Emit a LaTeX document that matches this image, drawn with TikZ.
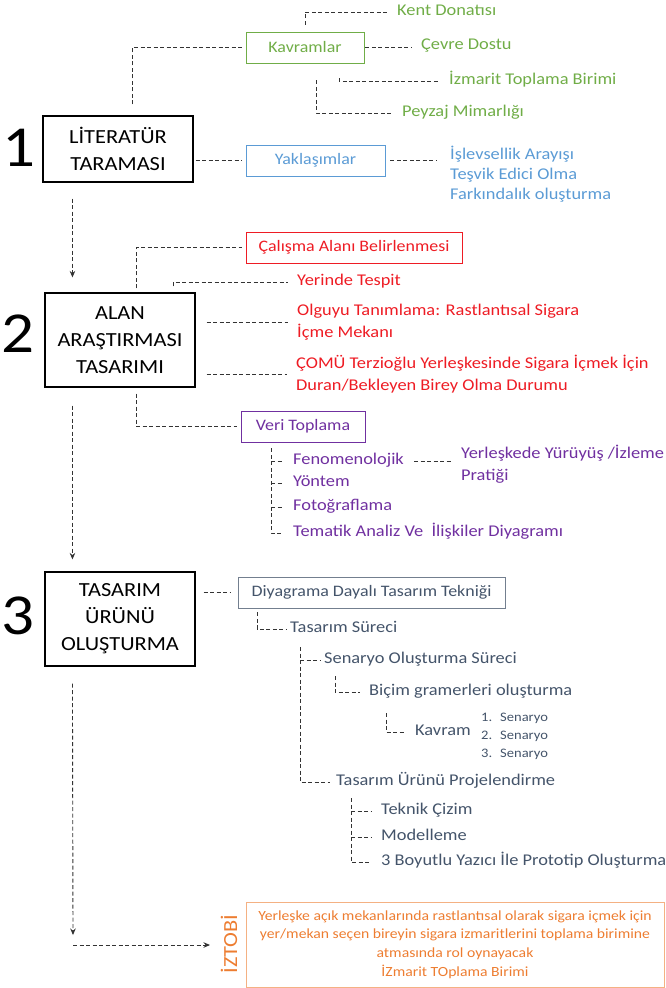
\documentclass[tikz,border=0pt]{standalone}
\usepackage{fontspec}
\setmainfont{Carlito}[FakeStretch=1.12]
\usetikzlibrary{arrows.meta}
\definecolor{kgreen}{RGB}{112,173,71}
\definecolor{kblue}{RGB}{91,155,213}
\definecolor{kred}{RGB}{238,28,36}
\definecolor{kpurple}{RGB}{112,48,160}
\definecolor{kslate}{RGB}{68,84,106}
\definecolor{korange}{RGB}{237,125,49}
\tikzset{
	conn/.style={draw=black!80, line width=0.9pt, dash pattern=on 4pt off 2.5pt},
	flow/.style={conn, -{Stealth[length=6.5pt,width=5.5pt]}},
	stage/.style={draw, line width=1.1pt, minimum width=150pt, align=center, font=\fontsize{20}{27}\selectfont},
	num/.style={inner sep=0pt, font=\fontsize{58}{58}\selectfont},
	tagbox/.style={draw, line width=0.9pt, minimum height=31pt, font=\fontsize{16}{20}\selectfont},
	item/.style={anchor=west, inner sep=0pt, text height=11pt, text depth=3.5pt, font=\fontsize{16.4}{20}\selectfont},
	para/.style={anchor=west, inner sep=0pt, align=left, font=\fontsize{16.4}{22}\selectfont},
}

\begin{document}
\begin{tikzpicture}[x=1pt,y=-1pt]
			%%%%% START %%%%%
			\useasboundingbox (0,0) rectangle (665,988);
			
			\node[stage, minimum height=66pt] (lit) at (118,149) {LİTERATÜR\\TARAMASI};
			\node[stage, minimum height=94pt] (alan) at (120,340) {ALAN\\ARAŞTIRMASI\\TASARIMI};
			\node[stage, minimum height=94pt] (tas) at (120,619) {TASARIM\\ÜRÜNÜ\\OLUŞTURMA};
			\node[num] (n1) at (19,148) {1};
			\node[num] (n2) at (18,334) {2};
			\node[num] (n3) at (18,616) {3};
			
			\node[tagbox, draw=kgreen, text=kgreen, minimum width=118pt] (kav) at (305,47.5) {Kavramlar};
			\node[item, text=kgreen] (kent) at (397,12) {Kent Donatısı};
			\node[item, text=kgreen] (cevre) at (421,46) {Çevre Dostu};
			\node[item, text=kgreen] (izm) at (449,81) {İzmarit Toplama Birimi};
			\node[item, text=kgreen] (pey) at (402,113) {Peyzaj Mimarlığı};
			\draw[conn, shorten >=4pt] ([xshift=90pt,yshift=11pt]lit.north west) |- (kav.west);
			\draw[conn, shorten >=9pt] ([yshift=7pt]kav.north) |- (kent.west);
			\draw[conn, shorten <=1pt, shorten >=10pt] (kav.east) -- (kav.east -| cevre.west);
			\draw[conn, shorten >=10pt] ([xshift=34pt,yshift=-15pt]kav.south) |- (izm.west);
			\draw[conn, shorten >=10pt] ([xshift=11pt,yshift=-17pt]kav.south) |- (pey.west);
			
			\node[tagbox, draw=kblue, text=kblue, minimum width=139pt] (yak) at (315.5,160.5) {Yaklaşımlar};
			\node[item, text=kblue] (isl) at (450,156) {İşlevsellik Arayışı};
			\node[item, text=kblue] (tes) at (450,176) {Teşvik Edici Olma};
			\node[item, text=kblue] (far) at (450,196) {Farkındalık oluşturma};
			\draw[conn, shorten <=2pt, shorten >=4pt] (lit.east |- yak.west) -- (yak.west);
			\draw[conn, shorten <=5pt, shorten >=13pt] (yak.east) -- (yak.east -| isl.west);
			
			\draw[flow] ([xshift=30pt,yshift=-16pt]lit.south west) -- ([xshift=28pt,yshift=15pt]alan.north west);
			
			\node[tagbox, draw=kred, text=kred, minimum width=216pt] (cal) at (354,247.5) {Çalışma Alanı Belirlenmesi};
			\node[item, text=kred] (yer) at (297,282) {Yerinde Tespit};
			\node[para, text=kred] (olg) at (297,322) {Olguyu Tanımlama: Rastlantısal Sigara\\İçme Mekanı};
			\node[para, text=kred] (como) at (296,374) {ÇOMÜ Terzioğlu Yerleşkesinde Sigara İçmek İçin\\Duran/Bekleyen Birey Olma Durumu};
			\draw[conn, shorten >=4pt] ([xshift=92pt,yshift=4pt]alan.north west) |- (cal.west);
			\draw[conn, shorten >=9pt] ([xshift=129pt,yshift=6pt]alan.north west) |- (yer.west);
			\draw[conn, shorten <=11pt, shorten >=9pt] (alan.east |- olg.west) -- (olg.west);
			\draw[conn, shorten <=11pt, shorten >=9pt] (alan.east |- como.west) -- (como.west);
			
			\node[tagbox, draw=kpurple, text=kpurple, minimum width=124pt] (veri) at (303,426.5) {Veri Toplama};
			\draw[conn, shorten >=4pt] ([xshift=92pt,yshift=-6pt]alan.south west) |- (veri.west);
			\node[item, text=kpurple] (fen) at (293,461) {Fenomenolojik};
			\node[item, text=kpurple] (yon) at (293,483) {Yöntem};
			\node[item, text=kpurple] (fot) at (293,507) {Fotoğraflama};
			\node[item, text=kpurple] (tem) at (293,533) {Tematik Analiz Ve\ \ İlişkiler Diyagramı};
			\node[para, text=kpurple] (yrl) at (461,464.5) {Yerleşkede Yürüyüş /İzleme\\Pratiği};
			\coordinate (vt) at ([xshift=-32pt,yshift=-6pt]veri.south);
			\draw[conn] (vt) |- ([xshift=-10pt]tem.west);
			\foreach \n in {fen,yon,fot}
				\draw[conn] (vt |- \n.west) -- ([xshift=-10pt]\n.west);
			\draw[conn, shorten <=10pt, shorten >=9pt] (fen.east) -- (fen.east -| yrl.west);
			
			\draw[flow] ([xshift=28pt,yshift=-18pt]alan.south west) -- ([xshift=28pt,yshift=12pt]tas.north west);
			
			\node[tagbox, draw=kslate!75, text=kslate, minimum width=267pt] (diy) at (371.5,592.5) {Diyagrama Dayalı Tasarım Tekniği};
			\draw[conn, shorten <=8pt, shorten >=7pt] (tas.east |- diy.west) -- (diy.west);
			\node[item, text=kslate] (sur) at (290,629) {Tasarım Süreci};
			\draw[conn, shorten >=4pt] ([xshift=-114.5pt,yshift=-4pt]diy.south) |- (sur.west);
			\node[item, text=kslate] (sen) at (324,660) {Senaryo Oluşturma Süreci};
			\node[item, text=kslate] (proj) at (336,782) {Tasarım Ürünü Projelendirme};
			\coordinate (st) at ([xshift=10pt,yshift=-18pt]sur.west);
			\draw[conn, shorten >=6pt] (st) |- (proj.west);
			\draw[conn, shorten >=4pt] (st |- sen.west) -- (sen.west);
			\node[item, text=kslate] (bic) at (369,692) {Biçim gramerleri oluşturma};
			\draw[conn, shorten >=9pt] ([xshift=11pt,yshift=-16pt]sen.west) |- (bic.west);
			\node[item, text=kslate] (kavr) at (415,732) {Kavram};
			\draw[conn, shorten >=10pt] ([xshift=17pt,yshift=-21pt]bic.west) |- (kavr.west);
			\foreach \i/\y in {1/718,2/736,3/754}
				\node[item, text=kslate, font=\fontsize{13}{16}\selectfont, text height=9pt, text depth=3pt] (sc\i) at (481,\y) {\makebox[19pt][l]{\i.}Senaryo};
			\node[item, text=kslate] (tek) at (381,811) {Teknik Çizim};
			\node[item, text=kslate] (mod) at (381,837) {Modelleme};
			\node[item, text=kslate] (boy) at (381,862) {3 Boyutlu Yazıcı İle Prototip Oluşturma};
			\coordinate (pt) at ([xshift=15pt,yshift=-16pt]proj.west);
			\draw[conn] (pt) |- ([xshift=-10pt]boy.west);
			\foreach \n in {tek,mod}
				\draw[conn] (pt |- \n.west) -- ([xshift=-10pt]\n.west);
			
			\coordinate (bend) at (73,945);
			\node[rotate=90, inner sep=0pt, text=korange, font=\fontsize{20}{20}\selectfont] (izt) at (229,944) {İZTOBİ};
			\node[draw=korange!60, line width=1pt, text=korange, minimum width=418pt, minimum height=85pt, align=center, font=\fontsize{14}{18.8}\selectfont] (izbox) at (455,944.5) {Yerleşke açık mekanlarında rastlantısal olarak sigara içmek için\\yer/mekan seçen bireyin sigara izmaritlerini toplama birimine\\atmasında rol oynayacak\\İZmarit TOplama Birimi};
			\draw[flow] ([xshift=28pt,yshift=-17pt]tas.south west) -- ([yshift=10pt]bend);
			\draw[flow, shorten >=19pt] (bend) -- (bend -| izt.center);
			
			%%%%% END %%%%%
\end{tikzpicture}
\end{document}
